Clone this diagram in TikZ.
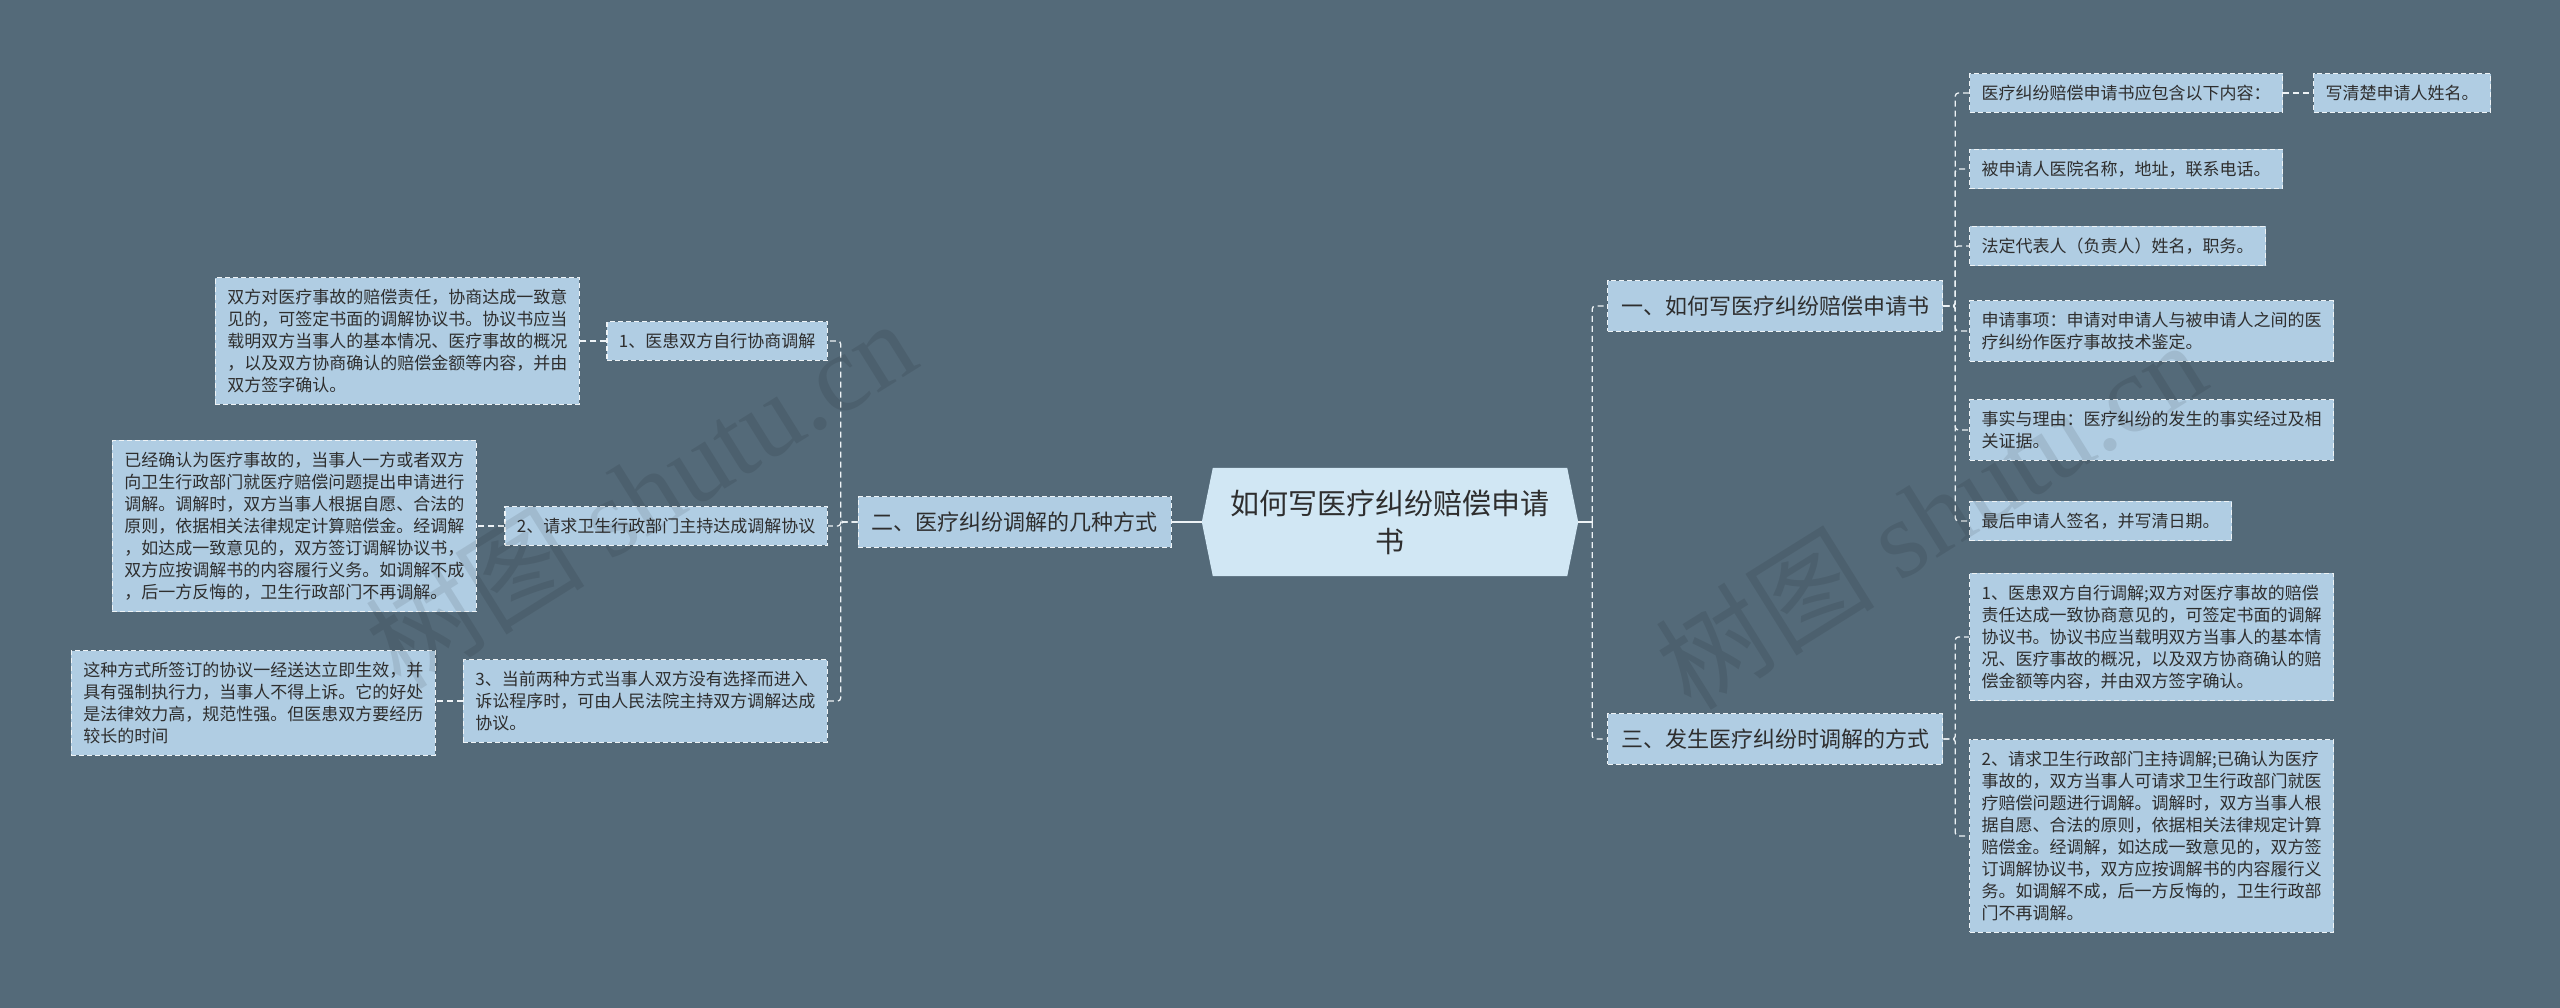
\documentclass[tikz,border=0pt]{standalone}
\usepackage{fontspec}
\setmainfont{Noto Sans CJK SC}
\newfontfamily\wmserif{Liberation Serif}
\usetikzlibrary{calc}
\definecolor{bgcol}{HTML}{546A79}
\definecolor{boxfill}{HTML}{B0CDE3}
\definecolor{rootfill}{HTML}{D1E7F4}
\definecolor{txt}{HTML}{2E2E2E}
\definecolor{lncol}{HTML}{EEF3F6}
\pgfdeclarelayer{bg}
\pgfsetlayers{bg,main}
\begin{document}
\begin{tikzpicture}[x=1pt,y=-1pt,
  box/.style={draw=lncol, fill=boxfill, text=txt, line width=1.3pt, dash pattern=on 5pt off 3pt, inner xsep=12pt, inner ysep=11.5pt},
  small/.style={box, font=\fontsize{17}{22}\selectfont},
  para/.style={small, text width=340pt, align=left},
  lvl/.style={box, font=\fontsize{22}{28}\selectfont, inner xsep=13.5pt, inner ysep=15pt},
  conn/.style={draw=lncol, line width=1.3pt, dash pattern=on 6pt off 4pt, rounded corners=3pt},
  solidconn/.style={draw=lncol, line width=1.5pt},
  wm/.style={rotate=32, text=black, opacity=0.09, font=\fontsize{110}{110}\selectfont},
]
\useasboundingbox (0,0) rectangle (2560,1008);

% root
\node[font=\fontsize{29}{38}\selectfont, text=txt, align=center, minimum width=376pt, minimum height=108pt, inner sep=0pt] (root) at (1390,522) {如何写医疗纠纷赔偿申请\\书};
\begin{pgfonlayer}{bg}
\fill[bgcol] (0,0) rectangle (2560,1008);
\fill[rootfill] (root.west) -- ([xshift=11pt]root.north west) -- ([xshift=-11pt]root.north east) -- (root.east) -- ([xshift=-11pt]root.south east) -- ([xshift=11pt]root.south west) -- cycle;
\end{pgfonlayer}

% level 1
\node[lvl, anchor=east] (L2) at (1172,522) {二、医疗纠纷调解的几种方式};
\node[lvl, anchor=west] (R1) at (1607,306) {一、如何写医疗纠纷赔偿申请书};
\node[lvl, anchor=west] (R3) at (1607,739) {三、发生医疗纠纷时调解的方式};

% left branch
\node[small, anchor=east] (l1) at (828,341) {1、医患双方自行协商调解};
\node[para, anchor=east] (l1d) at (580,341) {双方对医疗事故的赔偿责任，协商达成一致意\\见的，可签定书面的调解协议书。协议书应当\\载明双方当事人的基本情况、医疗事故的概况\\，以及双方协商确认的赔偿金额等内容，并由\\双方签字确认。};
\node[small, anchor=east] (l2) at (828,526) {2、请求卫生行政部门主持达成调解协议};
\node[para, anchor=east] (l2d) at (477,526) {已经确认为医疗事故的，当事人一方或者双方\\向卫生行政部门就医疗赔偿问题提出申请进行\\调解。调解时，双方当事人根据自愿、合法的\\原则，依据相关法律规定计算赔偿金。经调解\\，如达成一致意见的，双方签订调解协议书，\\双方应按调解书的内容履行义务。如调解不成\\，后一方反悔的，卫生行政部门不再调解。};
\node[para, anchor=east] (l3) at (828,701) {3、当前两种方式当事人双方没有选择而进入\\诉讼程序时，可由人民法院主持双方调解达成\\协议。};
\node[para, anchor=east] (l3d) at (436,703) {这种方式所签订的协议一经送达立即生效，并\\具有强制执行力，当事人不得上诉。它的好处\\是法律效力高，规范性强。但医患双方要经历\\较长的时间};

% right branch 一
\node[small, anchor=west] (a1) at (1969,93) {医疗纠纷赔偿申请书应包含以下内容：};
\node[small, anchor=west] (a1b) at (2313,93) {写清楚申请人姓名。};
\node[small, anchor=west] (a2) at (1969,169) {被申请人医院名称，地址，联系电话。};
\node[small, anchor=west] (a3) at (1969,246) {法定代表人（负责人）姓名，职务。};
\node[para, anchor=west] (a4) at (1969,331) {申请事项：申请对申请人与被申请人之间的医\\疗纠纷作医疗事故技术鉴定。};
\node[para, anchor=west] (a5) at (1969,430) {事实与理由：医疗纠纷的发生的事实经过及相\\关证据。};
\node[small, anchor=west] (a6) at (1969,521) {最后申请人签名，并写清日期。};

% right branch 三
\node[para, anchor=west] (b1) at (1969,637) {1、医患双方自行调解;双方对医疗事故的赔偿\\责任达成一致协商意见的，可签定书面的调解\\协议书。协议书应当载明双方当事人的基本情\\况、医疗事故的概况，以及双方协商确认的赔\\偿金额等内容，并由双方签字确认。};
\node[para, anchor=west] (b2) at (1969,836) {2、请求卫生行政部门主持调解;已确认为医疗\\事故的，双方当事人可请求卫生行政部门就医\\疗赔偿问题进行调解。调解时，双方当事人根\\据自愿、合法的原则，依据相关法律规定计算\\赔偿金。经调解，如达成一致意见的，双方签\\订调解协议书，双方应按调解书的内容履行义\\务。如调解不成，后一方反悔的，卫生行政部\\门不再调解。};

% connectors left
\draw[solidconn] (root.west) -- (L2.east);
\coordinate (lt) at ($(L2.west)+(-17,0)$);
\draw[conn] (L2.west) -- (lt) |- (l1.east);
\draw[conn] (L2.west) -- (lt) |- (l2.east);
\draw[conn] (L2.west) -- (lt) |- (l3.east);
\draw[conn] (l1.west) -- (l1.west -| l1d.east);
\draw[conn] (l2.west) -- (l2.west -| l2d.east);
\draw[conn] (l3.west) -- (l3.west -| l3d.east);

% connectors right
\coordinate (rt) at ($(root.east)+(14,0)$);
\draw[solidconn] (root.east) -- (rt);
\draw[conn] (rt) |- (R1.west);
\draw[conn] (rt) |- (R3.west);
\coordinate (r1t) at ($(R1.east)+(12,0)$);
\foreach \n in {a1,a2,a3,a4,a5,a6} {\draw[conn] (R1.east) -- (r1t) |- (\n.west);}
\draw[conn] (a1.east) -- (a1b.west);
\coordinate (r3t) at ($(R3.east)+(12,0)$);
\foreach \n in {b1,b2} {\draw[conn] (R3.east) -- (r3t) |- (\n.west);}

% watermarks
\node[wm] (wm1) at (640,493) {树图 {\wmserif shutu.cn}};
\node[wm] (wm2) at (1930,514) {树图 {\wmserif shutu.cn}};
\end{tikzpicture}
\end{document}
